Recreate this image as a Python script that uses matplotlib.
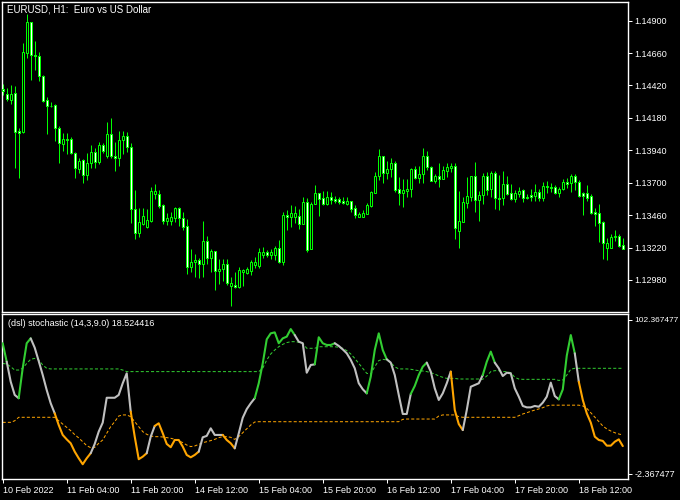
import matplotlib
matplotlib.use("Agg")
import matplotlib.pyplot as plt

plt.rcParams['lines.scale_dashes'] = False

# ---------------- data ----------------
opens = [1.14394, 1.14355, 1.14313, 1.14362, 1.14083, 1.14073, 1.14663, 1.14888, 1.14646, 1.14641,
         1.14490, 1.14313, 1.14270, 1.14276, 1.14107, 1.13985, 1.14024, 1.14024, 1.13922, 1.13800,
         1.13866, 1.13757, 1.13844, 1.13928, 1.13856, 1.13979, 1.13900, 1.14059, 1.13900, 1.13883,
         1.14016, 1.14046, 1.13962, 1.13503, 1.13330, 1.13395, 1.13372, 1.13419, 1.13619, 1.13617,
         1.13535, 1.13417, 1.13417, 1.13441, 1.13511, 1.13437, 1.13380, 1.13078, 1.13111, 1.13128,
         1.13101, 1.13269, 1.13145, 1.13195, 1.13049, 1.13061, 1.13098, 1.12938, 1.12943, 1.12930,
         1.13037, 1.13034, 1.13049, 1.13091, 1.13086, 1.13167, 1.13185, 1.13167, 1.13167, 1.13219,
         1.13115, 1.13461, 1.13449, 1.13449, 1.13454, 1.13395, 1.13557, 1.13207, 1.13543, 1.13622,
         1.13585, 1.13543, 1.13592, 1.13580, 1.13580, 1.13565, 1.13543, 1.13565, 1.13511, 1.13444,
         1.13444, 1.13469, 1.13530, 1.13626, 1.13750, 1.13898, 1.13770, 1.13800, 1.13844, 1.13651,
         1.13622, 1.13641, 1.13651, 1.13800, 1.13733, 1.13762, 1.13898, 1.13814, 1.13715, 1.13750,
         1.13726, 1.13789, 1.13811, 1.13824, 1.13345, 1.13412, 1.13552, 1.13597, 1.13750, 1.13572,
         1.13609, 1.13750, 1.13651, 1.13774, 1.13589, 1.13585, 1.13691, 1.13622, 1.13580, 1.13617,
         1.13646, 1.13597, 1.13609, 1.13604, 1.13629, 1.13589, 1.13676, 1.13666, 1.13666, 1.13626,
         1.13651, 1.13703, 1.13696, 1.13750, 1.13703, 1.13622, 1.13622, 1.13602, 1.13486, 1.13474,
         1.13407, 1.13215, 1.13215, 1.13296, 1.13306, 1.13239]
highs = [1.14431, 1.14399, 1.14424, 1.14416, 1.14103, 1.14737, 1.14949, 1.14890, 1.14749, 1.14670,
         1.14498, 1.14333, 1.14300, 1.14283, 1.14122, 1.14066, 1.14068, 1.14036, 1.13930, 1.13881,
         1.13876, 1.13918, 1.13979, 1.13959, 1.14004, 1.13992, 1.14148, 1.14182, 1.13999, 1.14083,
         1.14083, 1.14073, 1.13992, 1.13646, 1.13515, 1.13511, 1.13503, 1.13671, 1.13691, 1.13646,
         1.13540, 1.13476, 1.13483, 1.13520, 1.13520, 1.13486, 1.13432, 1.13209, 1.13170, 1.13141,
         1.13417, 1.13306, 1.13209, 1.13195, 1.13135, 1.13135, 1.13135, 1.13004, 1.13041, 1.13074,
         1.13061, 1.13074, 1.13128, 1.13148, 1.13219, 1.13226, 1.13202, 1.13207, 1.13232, 1.13276,
         1.13486, 1.13498, 1.13535, 1.13528, 1.13503, 1.13597, 1.13585, 1.13560, 1.13683, 1.13622,
         1.13639, 1.13639, 1.13629, 1.13602, 1.13597, 1.13592, 1.13592, 1.13565, 1.13535, 1.13486,
         1.13498, 1.13548, 1.13641, 1.13782, 1.13950, 1.13898, 1.13861, 1.13881, 1.13861, 1.13740,
         1.13728, 1.13728, 1.13807, 1.13824, 1.13824, 1.13959, 1.13935, 1.13824, 1.13765, 1.13848,
         1.13824, 1.13848, 1.13844, 1.13848, 1.13639, 1.13597, 1.13740, 1.13750, 1.13856, 1.13639,
         1.13770, 1.13782, 1.13787, 1.13787, 1.13757, 1.13787, 1.13750, 1.13691, 1.13646, 1.13666,
         1.13651, 1.13617, 1.13654, 1.13691, 1.13654, 1.13708, 1.13713, 1.13696, 1.13683, 1.13666,
         1.13726, 1.13737, 1.13765, 1.13765, 1.13720, 1.13629, 1.13683, 1.13617, 1.13515, 1.13540,
         1.13417, 1.13289, 1.13318, 1.13350, 1.13318, 1.13289]
lows = [1.14350, 1.14307, 1.14285, 1.13811, 1.13737, 1.14066, 1.14621, 1.14461, 1.14535, 1.14453,
        1.14298, 1.14061, 1.14261, 1.14009, 1.13848, 1.13937, 1.13913, 1.13913, 1.13737, 1.13770,
        1.13696, 1.13720, 1.13807, 1.13811, 1.13837, 1.13918, 1.13885, 1.13885, 1.13789, 1.13824,
        1.13913, 1.13930, 1.13404, 1.13283, 1.13301, 1.13387, 1.13363, 1.13412, 1.13580, 1.13511,
        1.13392, 1.13387, 1.13387, 1.13412, 1.13380, 1.13350, 1.13024, 1.13041, 1.13000, 1.12993,
        1.13004, 1.13096, 1.13041, 1.12906, 1.12950, 1.12973, 1.12943, 1.12790, 1.12923, 1.12923,
        1.12938, 1.13024, 1.13017, 1.13069, 1.13069, 1.13141, 1.13148, 1.13135, 1.13128, 1.13104,
        1.13091, 1.13350, 1.13375, 1.13400, 1.13357, 1.13395, 1.13189, 1.13207, 1.13543, 1.13454,
        1.13535, 1.13535, 1.13543, 1.13552, 1.13543, 1.13543, 1.13535, 1.13486, 1.13437, 1.13444,
        1.13444, 1.13469, 1.13523, 1.13622, 1.13720, 1.13700, 1.13728, 1.13745, 1.13629, 1.13535,
        1.13523, 1.13592, 1.13597, 1.13726, 1.13700, 1.13696, 1.13794, 1.13715, 1.13700, 1.13671,
        1.13726, 1.13740, 1.13782, 1.13281, 1.13219, 1.13412, 1.13511, 1.13567, 1.13486, 1.13417,
        1.13540, 1.13609, 1.13597, 1.13503, 1.13498, 1.13535, 1.13609, 1.13572, 1.13560, 1.13592,
        1.13560, 1.13577, 1.13565, 1.13565, 1.13565, 1.13565, 1.13622, 1.13629, 1.13614, 1.13597,
        1.13646, 1.13659, 1.13634, 1.13646, 1.13597, 1.13461, 1.13565, 1.13469, 1.13382, 1.13259,
        1.13135, 1.13128, 1.13215, 1.13269, 1.13226, 1.13207]
closes = [1.14379, 1.14318, 1.14355, 1.14078, 1.14068, 1.14666, 1.14888, 1.14646, 1.14635, 1.14493,
          1.14307, 1.14270, 1.14268, 1.14107, 1.13992, 1.14024, 1.14018, 1.13922, 1.13807, 1.13861,
          1.13757, 1.13846, 1.13928, 1.13856, 1.13979, 1.13937, 1.14059, 1.13900, 1.13883, 1.14016,
          1.14046, 1.13962, 1.13503, 1.13330, 1.13407, 1.13454, 1.13422, 1.13639, 1.13639, 1.13530,
          1.13419, 1.13437, 1.13446, 1.13511, 1.13437, 1.13375, 1.13078, 1.13111, 1.13126, 1.13101,
          1.13269, 1.13145, 1.13195, 1.13049, 1.13061, 1.13098, 1.12960, 1.12960, 1.12930, 1.13054,
          1.13052, 1.13059, 1.13111, 1.13111, 1.13185, 1.13185, 1.13167, 1.13185, 1.13219, 1.13111,
          1.13461, 1.13449, 1.13474, 1.13474, 1.13395, 1.13557, 1.13202, 1.13543, 1.13622, 1.13577,
          1.13543, 1.13592, 1.13574, 1.13567, 1.13555, 1.13548, 1.13565, 1.13506, 1.13461, 1.13469,
          1.13478, 1.13535, 1.13629, 1.13750, 1.13898, 1.13770, 1.13800, 1.13844, 1.13646, 1.13622,
          1.13646, 1.13656, 1.13800, 1.13737, 1.13762, 1.13898, 1.13814, 1.13715, 1.13750, 1.13726,
          1.13794, 1.13814, 1.13824, 1.13363, 1.13417, 1.13560, 1.13602, 1.13750, 1.13572, 1.13609,
          1.13750, 1.13646, 1.13774, 1.13585, 1.13577, 1.13691, 1.13614, 1.13580, 1.13622, 1.13641,
          1.13589, 1.13589, 1.13597, 1.13629, 1.13589, 1.13676, 1.13666, 1.13659, 1.13626, 1.13654,
          1.13703, 1.13691, 1.13750, 1.13703, 1.13604, 1.13604, 1.13589, 1.13478, 1.13469, 1.13404,
          1.13252, 1.13252, 1.13296, 1.13308, 1.13234, 1.13207]

stoch = [83.8, 72.1, 59.4, 51.0, 48.9, 68.0, 83.8, 86.9, 81.0, 72.5,
         63.7, 54.1, 45.7, 39.3, 31.9, 25.6, 22.8, 20.3, 15.0, 10.8,
         7.0, 10.8, 14.0, 19.9, 27.7, 33.4, 49.2, 49.2, 49.2, 51.0,
         58.4, 64.7, 40.4, 24.5, 10.2, 11.8, 14.0, 24.5, 31.3, 33.0,
         26.7, 19.9, 17.8, 22.4, 22.4, 18.2, 12.9, 11.4, 12.9, 15.0,
         24.1, 25.0, 29.8, 25.6, 25.6, 25.6, 22.4, 20.3, 17.1, 26.6,
         36.5, 42.0, 45.7, 48.9, 58.4, 71.0, 86.3, 90.1, 90.7, 83.8,
         86.9, 88.0, 92.8, 89.0, 84.8, 83.8, 65.1, 70.0, 70.4, 87.6,
         83.8, 82.7, 82.7, 83.8, 82.1, 79.9, 77.4, 73.2, 67.9, 58.4,
         54.6, 52.0, 62.6, 79.5, 90.1, 79.5, 73.6, 71.5, 63.6, 51.0,
         38.9, 38.9, 51.6, 56.7, 63.6, 68.9, 71.5, 65.8, 55.2, 47.8,
         52.0, 58.4, 65.8, 41.4, 32.5, 28.7, 41.4, 56.2, 57.3, 58.4,
         63.6, 72.1, 78.5, 71.5, 67.9, 63.0, 65.1, 64.7, 55.2, 49.9,
         44.0, 43.1, 43.1, 44.0, 43.5, 46.1, 49.9, 58.8, 50.3, 48.2,
         54.5, 76.0, 89.0, 77.4, 59.4, 47.8, 39.3, 33.4, 24.5, 22.4,
         21.8, 18.8, 18.8, 21.3, 22.8, 18.524416]

level_up = [71.0, 70.6, 68.9, 66.8, 66.8, 67.9, 71.0, 73.6, 74.2, 73.2,
            70.0, 67.9, 67.5, 67.5, 67.5, 67.5, 67.5, 67.5, 67.5, 67.5,
            67.5, 67.5, 67.5, 67.5, 67.5, 67.5, 67.5, 67.5, 67.5, 67.5,
            66.8, 65.8, 65.8, 65.8, 65.8, 65.8, 65.8, 65.8, 65.8, 65.8,
            65.8, 65.8, 65.8, 65.8, 65.8, 65.8, 65.8, 65.8, 65.8, 65.8,
            65.8, 65.8, 65.8, 65.8, 65.8, 65.8, 65.8, 65.8, 65.8, 65.8,
            65.8, 65.8, 65.8, 65.8, 65.8, 67.9, 73.2, 77.0, 79.5, 81.6,
            83.1, 84.2, 84.8, 84.8, 84.4, 83.8, 80.6, 80.6, 80.6, 81.6,
            81.6, 81.6, 81.6, 81.6, 81.2, 80.6, 79.1, 77.0, 74.2, 71.0,
            67.9, 64.7, 64.3, 68.9, 72.8, 73.6, 73.2, 71.5, 68.9, 67.5,
            67.5, 67.5, 67.3, 66.8, 66.4, 66.2, 65.8, 65.1, 64.3, 63.0,
            62.2, 61.5, 61.5, 61.5, 61.1, 61.1, 61.1, 61.1, 61.1, 61.1,
            60.9, 63.0, 65.8, 66.4, 66.4, 65.8, 65.8, 65.1, 62.2, 61.1,
            60.9, 60.9, 60.9, 60.9, 60.9, 60.9, 60.9, 60.9, 60.9, 60.2,
            60.5, 63.6, 67.3, 67.9, 67.9, 67.9, 67.9, 67.9, 67.9, 67.9,
            67.9, 67.9, 67.9, 67.9, 67.9, 67.9]

level_dn = [33.6, 33.6, 33.6, 34.6, 36.8, 36.8, 36.8, 36.8, 36.8, 36.8,
            36.8, 36.8, 36.8, 36.8, 34.6, 32.5, 30.4, 28.3, 25.8, 23.7,
            21.3, 18.8, 17.5, 17.7, 20.3, 22.4, 26.6, 30.9, 34.0, 37.6,
            38.3, 38.3, 37.2, 34.0, 30.9, 27.7, 26.0, 24.9, 24.5, 24.5,
            24.3, 23.9, 23.5, 22.8, 22.0, 20.7, 19.2, 18.2, 18.6, 19.6,
            20.7, 21.3, 22.0, 22.8, 23.9, 24.5, 24.5, 24.1, 22.8, 24.5,
            27.0, 29.5, 31.9, 33.8, 34.0, 34.0, 34.0, 34.0, 34.0, 34.0,
            34.0, 34.0, 34.0, 34.0, 34.0, 34.0, 34.0, 34.0, 34.0, 34.0,
            34.0, 34.0, 34.0, 34.0, 34.0, 34.0, 34.0, 34.0, 34.0, 34.0,
            34.0, 34.0, 34.0, 34.0, 34.0, 34.0, 34.0, 34.0, 34.0, 34.0,
            35.5, 35.7, 35.7, 35.7, 35.7, 35.7, 35.7, 35.7, 35.7, 37.6,
            38.3, 38.3, 38.3, 38.3, 37.2, 36.8, 36.8, 36.8, 36.8, 36.8,
            36.8, 36.8, 36.8, 36.8, 36.8, 36.8, 36.8, 36.8, 36.8, 37.8,
            38.9, 39.7, 40.6, 41.4, 42.1, 42.9, 44.0, 44.5, 44.5, 44.5,
            44.5, 44.5, 44.5, 44.5, 44.5, 44.0, 42.5, 39.7, 36.8, 34.0,
            31.3, 29.4, 28.1, 27.0, 26.2, 25.6]

# colour state of the stochastic line segment ending at each bar: g=green, s=silver, o=orange
stoch_state = ("ggsssgggssssss" "ooooooooo" "ssssssssss" "oooo" "ss" "ooooooooooo"
               "ssssss" "ooo" "sssss" "gggggggggg" "sssss" "ggggg" "ssssssss" "ggggg"
               "ssssss" "gggg" "ssssss" "ooo" "sssss" "ggg" "ssssssssssssssss" "gggg" "s"
               "ooooooooooo")

price_ticks = [1.12980, 1.13220, 1.13460, 1.13700, 1.13940, 1.14180, 1.14420, 1.14660, 1.14900]
time_tick_bars = [0, 16, 32, 48, 64, 80, 96, 112, 128, 144]
time_labels = ["10 Feb 2022", "11 Feb 04:00", "11 Feb 20:00", "14 Feb 12:00", "15 Feb 04:00",
               "15 Feb 20:00", "16 Feb 12:00", "17 Feb 04:00", "17 Feb 20:00", "18 Feb 12:00"]
title_text = "EURUSD, H1:  Euro vs US Dollar"
ind_text = "(dsl) stochastic (14,3,9.0) 18.524416"
ind_max_label = "102.367477"
ind_min_label = "-2.367477"
ind_min, ind_max = -2.367477, 102.367477

# ---------------- styling ----------------
W, H = 680, 500
FONT = "Liberation Sans"
FS = 6.5
CANDLE = "#00ff00"
GREEN = "#32cd32"
ORANGE = "#ffa500"
SILVER = "#c0c0c0"
PX = 0.72  # one pixel in points at dpi 100

fig = plt.figure(figsize=(W / 100, H / 100), dpi=100, facecolor="black")

def frac_box(x0, y0, x1, y1):
    return [x0 / W, 1 - y1 / H, (x1 - x0) / W, (y1 - y0) / H]

ax = fig.add_axes(frac_box(2, 2, 628, 312), facecolor="black")
ax2 = fig.add_axes(frac_box(2, 314, 628, 479), facecolor="black")

n = len(closes)
xs = list(range(n))
for a in (ax, ax2):
    a.set_xlim(-0.175, 156.3)
    for s in a.spines.values():
        s.set_color("white")
        s.set_linewidth(1.0)

# candles
ax.vlines(xs, lows, highs, colors=CANDLE, linewidth=PX, zorder=2)
bodies_b = [abs(c - o) if abs(c - o) > 0 else 0.000001 for o, c in zip(opens, closes)]
bottoms = [min(o, c) for o, c in zip(opens, closes)]
faces = ["white" if c < o else "black" for o, c in zip(opens, closes)]
ax.bar(xs, bodies_b, bottom=bottoms, width=0.5, color=faces, edgecolor=CANDLE,
       linewidth=PX, zorder=3)

p_top = 1.15053 - 2 * 0.00007404
p_bot = 1.15053 - 312 * 0.00007404
ax.set_ylim(p_bot, p_top)
ax.yaxis.tick_right()
ax.set_yticks(price_ticks)
ax.set_yticklabels([f"{v:.5f}" for v in price_ticks])
ax.tick_params(axis="y", colors="white", direction="out", length=3, width=PX, pad=1.5,
               labelsize=FS, labelcolor="white")
ax.set_xticks([])
for lab in ax.get_yticklabels():
    lab.set_family(FONT)

# indicator levels
up_line, = ax2.plot(xs, level_up, color=GREEN, linewidth=PX, zorder=2)
up_line.set_dashes([2.2, 1.5])
dn_line, = ax2.plot(xs, level_dn, color=ORANGE, linewidth=PX, zorder=2)
dn_line.set_dashes([2.2, 1.5])

# stochastic colored line
cmap = {"g": GREEN, "s": SILVER, "o": ORANGE}
k = 1
while k < n:
    st = stoch_state[k]
    j = k
    while j + 1 < n and stoch_state[j + 1] == st:
        j += 1
    ax2.plot(xs[k - 1:j + 1], stoch[k - 1:j + 1], color=cmap[st], linewidth=1.5,
             solid_capstyle="round", solid_joinstyle="round", zorder=3)
    k = j + 1

ax2.set_ylim(ind_min, ind_max)
ax2.yaxis.tick_right()
ax2.set_yticks([98.75, 0.81])
ax2.set_yticklabels([ind_max_label, ind_min_label])
ax2.tick_params(axis="y", colors="white", direction="out", length=3, width=PX, pad=1.5,
                labelsize=FS, labelcolor="white")
ax2.set_xticks(time_tick_bars)
ax2.set_xticklabels(time_labels)
ax2.tick_params(axis="x", colors="white", direction="out", length=3, width=PX, pad=2,
                labelsize=FS, labelcolor="white")
for lab in ax2.get_xticklabels():
    lab.set_horizontalalignment("left")
    lab.set_family(FONT)
for lab in ax2.get_yticklabels():
    lab.set_family(FONT)
ax2.get_yticklabels()[0].set_fontsize(6)

fig.text(7 / W, 1 - 9.5 / H, title_text, color="white", fontsize=7, family=FONT,
         ha="left", va="center")
fig.text(8 / W, 1 - 323.5 / H, ind_text, color="white", fontsize=FS, family=FONT,
         ha="left", va="center")

fig.savefig("out.png", dpi=100, facecolor="black")
